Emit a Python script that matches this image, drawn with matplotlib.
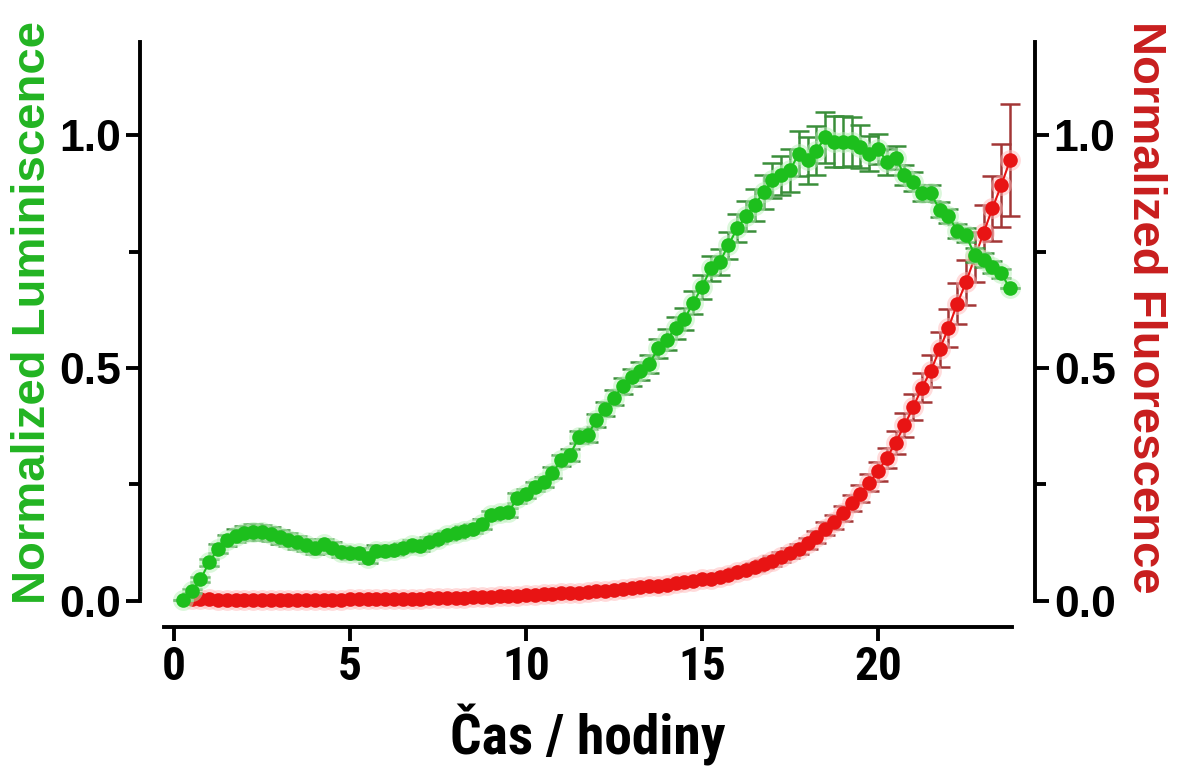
import matplotlib
matplotlib.use("Agg")
import matplotlib.pyplot as plt
import numpy as np

# time points (hours), every 15 min
t_lum = np.arange(1, 96) * 0.25        # 0.25 .. 23.75
t_flu = np.arange(2, 96) * 0.25        # 0.50 .. 23.75

lum = [0.002, 0.022, 0.046, 0.083, 0.112, 0.130, 0.140, 0.146, 0.149, 0.147,
       0.143, 0.137, 0.131, 0.126, 0.120, 0.113, 0.122, 0.114, 0.106, 0.102,
       0.102, 0.093, 0.108, 0.107, 0.109, 0.114, 0.120, 0.117, 0.127, 0.134,
       0.141, 0.145, 0.151, 0.155, 0.165, 0.184, 0.188, 0.190, 0.221, 0.230,
       0.245, 0.256, 0.275, 0.302, 0.314, 0.351, 0.356, 0.388, 0.413, 0.436,
       0.462, 0.480, 0.494, 0.509, 0.542, 0.561, 0.586, 0.605, 0.640, 0.674,
       0.714, 0.727, 0.764, 0.800, 0.826, 0.850, 0.878, 0.903, 0.914, 0.925,
       0.960, 0.946, 0.967, 0.995, 0.986, 0.986, 0.986, 0.975, 0.960, 0.971,
       0.943, 0.952, 0.914, 0.900, 0.876, 0.875, 0.840, 0.826, 0.795, 0.785,
       0.742, 0.732, 0.717, 0.703, 0.671]

lum_err = [0.0, 0.004, 0.006, 0.008, 0.010, 0.012, 0.014, 0.015, 0.016, 0.016,
           0.015, 0.015, 0.014, 0.014, 0.013, 0.013, 0.012, 0.012, 0.012, 0.012,
           0.012, 0.012, 0.011, 0.010, 0.010, 0.010, 0.010, 0.010, 0.010, 0.010,
           0.010, 0.010, 0.010, 0.010, 0.010, 0.010, 0.010, 0.010, 0.010, 0.010,
           0.010, 0.011, 0.012, 0.012, 0.013, 0.013, 0.014, 0.014, 0.015, 0.016,
           0.017, 0.018, 0.019, 0.020, 0.021, 0.022, 0.023, 0.024, 0.025, 0.026,
           0.027, 0.028, 0.029, 0.030, 0.032, 0.034, 0.036, 0.038, 0.042, 0.046,
           0.048, 0.050, 0.052, 0.054, 0.055, 0.055, 0.052, 0.046, 0.038, 0.032,
           0.028, 0.024, 0.022, 0.020, 0.018, 0.017, 0.016, 0.015, 0.015, 0.015,
           0.015, 0.015, 0.012, 0.010, 0.0]

flu = [0.004, 0.004, 0.004, 0.003, 0.003, 0.003, 0.003, 0.003, 0.003, 0.003,
       0.003, 0.003, 0.003, 0.003, 0.003,
       0.003, 0.003, 0.003, 0.004, 0.004, 0.004, 0.004, 0.004, 0.005, 0.005,
       0.005, 0.005, 0.006, 0.006, 0.006, 0.007,
       0.007, 0.008, 0.008, 0.009, 0.010, 0.010, 0.011, 0.012, 0.013, 0.014,
       0.015, 0.016, 0.017, 0.018, 0.020, 0.021,
       0.022, 0.024, 0.025, 0.027, 0.029, 0.031, 0.033, 0.035, 0.038, 0.040,
       0.043, 0.046,
       0.048, 0.052, 0.056, 0.062, 0.067, 0.073, 0.079, 0.086, 0.094, 0.103,
       0.112, 0.124,
       0.138, 0.155, 0.170, 0.188, 0.210, 0.230, 0.254, 0.278, 0.307, 0.340,
       0.377, 0.416,
       0.458, 0.494, 0.540, 0.586, 0.638, 0.684, 0.738, 0.790, 0.843, 0.892,
       0.946]

flu_err = [0.0] * 48 + \
          [0.002, 0.002, 0.003, 0.003, 0.003, 0.004, 0.004, 0.004, 0.005, 0.005,
           0.006, 0.006, 0.007, 0.007, 0.008, 0.008, 0.009, 0.009, 0.010, 0.010,
           0.011, 0.011, 0.012, 0.013, 0.014, 0.015, 0.016, 0.017, 0.018, 0.019,
           0.020, 0.022, 0.024, 0.026, 0.028, 0.031, 0.034, 0.037, 0.040, 0.044,
           0.048, 0.053, 0.060, 0.070, 0.090, 0.120]

green = "#1dbf1d"
green_dark = "#3a8f3a"
red = "#e81414"
red_dark = "#a33636"
narrow = ["Liberation Sans Narrow", "Roboto Condensed", "DejaVu Sans Condensed",
          "Liberation Sans"]

fig = plt.figure(figsize=(11.77, 7.69), dpi=100)
ax = fig.add_axes([140/1177, 1 - 627/769, 895/1177, 585/769])

# fluorescence (red) first, luminescence on top
ax.errorbar(t_flu, flu, yerr=flu_err, fmt="none", ecolor=red_dark, elinewidth=1.8,
            capsize=7, capthick=1.8, zorder=2)
ax.plot(t_flu, flu, "o", ms=15, color="#ffb8b8", alpha=0.5, mec="none", zorder=2.5)
ax.plot(t_flu, flu, "-o", ms=10.5, lw=1.5, color=red, mec="none", zorder=3)

ax.errorbar(t_lum, lum, yerr=lum_err, fmt="none", ecolor=green_dark, elinewidth=1.8,
            capsize=7, capthick=1.8, zorder=4)
ax.plot(t_lum, lum, "o", ms=15, color="#b8f0b8", alpha=0.5, mec="none", zorder=4.5)
ax.plot(t_lum, lum, "-o", ms=10.5, lw=1.5, color=green, mec="none", zorder=5)

ax.set_xlim(-0.966, 24.46)
ax.set_ylim(-0.056, 1.2)
ax.set_xticks([0, 5, 10, 15, 20])
ax.set_yticks([0.0, 0.5, 1.0])
ax.set_yticks([0.25, 0.75], minor=True)
ax.set_yticklabels(["0.0", "0.5", "1.0"])

for s in ["top", "right"]:
    ax.spines[s].set_visible(False)
ax.spines["left"].set_bounds(0, 1.2)
ax.spines["bottom"].set_bounds(-0.28, 23.8)
for s in ["left", "bottom"]:
    ax.spines[s].set_linewidth(2.8)

ax.tick_params(axis="both", which="major", length=10, width=2.8, labelsize=32)
ax.tick_params(axis="x", which="major", pad=3)
ax.tick_params(axis="y", which="minor", length=8, width=2.8)
for lab in ax.get_yticklabels():
    lab.set_fontweight("bold")
    lab.set_family("Liberation Sans")
for lab in ax.get_xticklabels():
    lab.set_fontweight("bold")
    lab.set_family(narrow)
    lab.set_fontsize(34)

ax2 = ax.twinx()
ax2.set_ylim(ax.get_ylim())
for s in ["top", "left", "bottom"]:
    ax2.spines[s].set_visible(False)
ax2.spines["right"].set_bounds(0, 1.2)
ax2.spines["right"].set_linewidth(2.8)
ax2.set_yticks([0.0, 0.5, 1.0])
ax2.set_yticks([0.25, 0.75], minor=True)
ax2.set_yticklabels(["0.0", "0.5", "1.0"])
ax2.tick_params(axis="y", which="major", length=10, width=2.8, labelsize=32)
ax2.tick_params(axis="y", which="minor", length=8, width=2.8)
for lab in ax2.get_yticklabels():
    lab.set_fontweight("bold")
    lab.set_family("Liberation Sans")

ax.set_xlabel("Čas / hodiny", fontsize=40, fontweight="bold", family=narrow,
              va="center")
ax.xaxis.set_label_coords(0.5, -0.185)
ax.set_ylabel("Normalized Luminiscence", fontsize=34, fontweight="bold",
              family="Liberation Sans", color="#22b422", va="center")
ax.yaxis.set_label_coords(-0.12, 0.538)
ax2.set_ylabel("Normalized Fluorescence", fontsize=34, fontweight="bold",
               family="Liberation Sans", color="#c81e1e", rotation=270,
               va="center")
ax2.yaxis.set_label_coords(1.123, 0.547)

fig.savefig("out.png", dpi=100)
